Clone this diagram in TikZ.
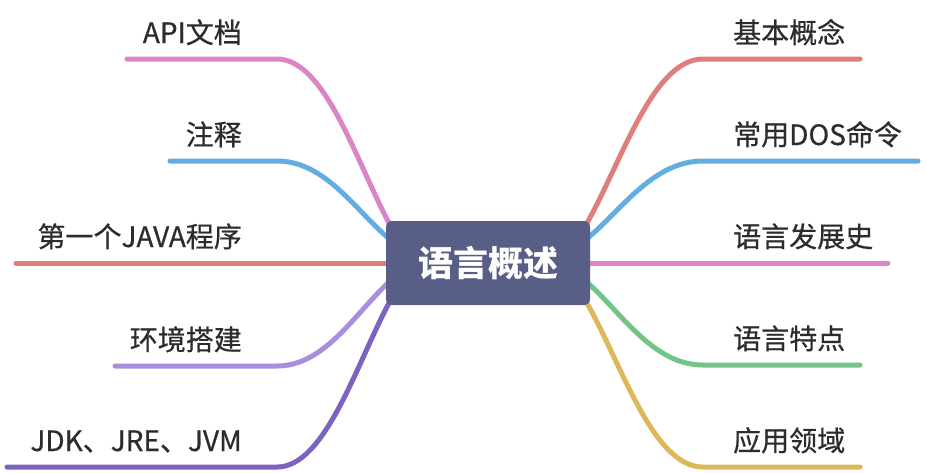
\documentclass[tikz,border=0pt]{standalone}
\usepackage{fontspec}
\setmainfont{Noto Sans CJK SC}
\newfontfamily\leaffont[FakeBold=0.6]{Noto Sans CJK SC}
\usetikzlibrary{positioning}

\definecolor{topicbg}{HTML}{585E86}
\definecolor{leaftext}{HTML}{2C2C2C}
\definecolor{mpink}{HTML}{DB84C6}
\definecolor{mblue}{HTML}{62AEE2}
\definecolor{mred}{HTML}{E07E7E}
\definecolor{mlilac}{HTML}{A98EE0}
\definecolor{mviolet}{HTML}{7C63BF}
\definecolor{mgreen}{HTML}{74C487}
\definecolor{mgold}{HTML}{DDB75B}

\tikzset{
  branch/.style={line width=5pt, line cap=round},
  leaf/.style={font=\leaffont\fontsize{28}{32}\selectfont, text=leaftext, inner sep=0pt},
  topic/.style={fill=topicbg, rounded corners=6pt, minimum width=204pt,
    minimum height=84pt, text=white, font=\bfseries\fontsize{35}{40}\selectfont}
}

\begin{document}
\begin{tikzpicture}[x=1pt,y=-1pt]
  \useasboundingbox (0,0) rectangle (926,472);

  % left side
  \coordinate (api-s) at (389,223);  \coordinate (api-b) at (277,59);  \coordinate (api-e) at (127,59);
  \coordinate (note-s) at (387,237); \coordinate (note-b) at (277,161); \coordinate (note-e) at (170,161);
  \coordinate (first-s) at (390,263); \coordinate (first-e) at (16,263);
  \coordinate (env-s) at (387,284);  \coordinate (env-b) at (277,366);  \coordinate (env-e) at (115,366);
  \coordinate (jdk-s) at (389,303);  \coordinate (jdk-b) at (277,467);  \coordinate (jdk-e) at (7,467);

  % right side
  \coordinate (basic-s) at (587,223); \coordinate (basic-b) at (703,59);  \coordinate (basic-e) at (860,59);
  \coordinate (dos-s) at (589,237);   \coordinate (dos-b) at (703,161);   \coordinate (dos-e) at (918,161);
  \coordinate (hist-s) at (586,263);  \coordinate (hist-e) at (888,263);
  \coordinate (feat-s) at (589,284);  \coordinate (feat-b) at (703,365);  \coordinate (feat-e) at (860,365);
  \coordinate (app-s) at (587,303);   \coordinate (app-b) at (703,467);   \coordinate (app-e) at (860,467);

  \draw[branch, mpink]   (api-s) .. controls +(-33,-62) and +(48,0) .. (api-b) -- (api-e);
  \draw[branch, mblue]   (note-s) .. controls +(-33,-29) and +(47,0) .. (note-b) -- (note-e);
  \draw[branch, mred]    (first-s) -- (first-e);
  \draw[branch, mlilac]  (env-s) .. controls +(-33,31) and +(47,0) .. (env-b) -- (env-e);
  \draw[branch, mviolet] (jdk-s) .. controls +(-33,62) and +(48,0) .. (jdk-b) -- (jdk-e);

  \draw[branch, mred]    (basic-s) .. controls +(35,-62) and +(-50,0) .. (basic-b) -- (basic-e);
  \draw[branch, mblue]   (dos-s) .. controls +(34,-29) and +(-49,0) .. (dos-b) -- (dos-e);
  \draw[branch, mpink]   (hist-s) -- (hist-e);
  \draw[branch, mgreen]  (feat-s) .. controls +(34,31) and +(-49,0) .. (feat-b) -- (feat-e);
  \draw[branch, mgold]   (app-s) .. controls +(35,62) and +(-50,0) .. (app-b) -- (app-e);

  \node[topic] (topic) at (488,263) {语言概述};

  % labels
  \node[leaf, anchor=base east] (api)   at (242,43)  {API文档};
  \node[leaf, anchor=base east] (note)  at (242,145) {注释};
  \node[leaf, anchor=base east] (first) at (242,247) {第一个JAVA程序};
  \node[leaf, anchor=base east] (env)   at (242,350) {环境搭建};
  \node[leaf, anchor=base east] (jdk)   at (242,451) {JDK、JRE、JVM};

  \node[leaf, anchor=base west] (basic) at (733,43)  {基本概念};
  \node[leaf, anchor=base west] (dos)   at (733,145) {常用DOS命令};
  \node[leaf, anchor=base west] (hist)  at (733,247) {语言发展史};
  \node[leaf, anchor=base west] (feat)  at (733,349) {语言特点};
  \node[leaf, anchor=base west] (app)   at (733,451) {应用领域};
\end{tikzpicture}
\end{document}
